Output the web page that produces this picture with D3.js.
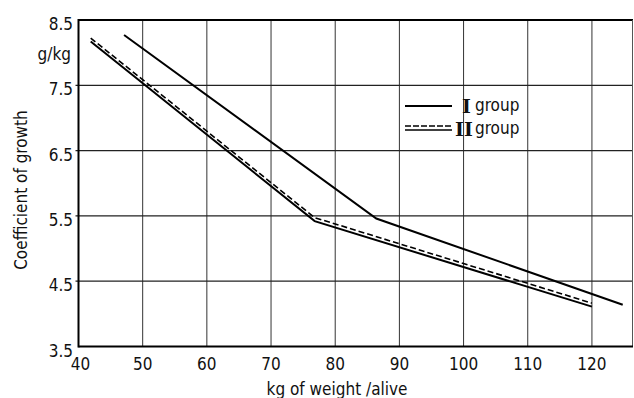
<!DOCTYPE html>
<meta charset="utf-8">
<style>
  body { margin: 0; background: #fff; }
  text { font-family: "DejaVu Sans Condensed", "Liberation Sans Narrow", sans-serif; fill: #111; }
</style>
<svg width="634" height="398"></svg>
<script src="https://d3js.org/d3.v7.min.js"></script>
<script>

    // values
    var xTicks = [40, 50, 60, 70, 80, 90, 100, 110, 120];
    var yTicks = [3.5, 4.5, 5.5, 6.5, 7.5, 8.5];
    var weightI = [47.1, 86.4, 124.8];
    var coefI = [8.27, 5.46, 4.14];
    var weightII = [41.9, 76.8, 120];
    var coefII = [8.17, 5.42, 4.11];
    var xMax = 126.4;

    var svg = d3.select("svg");

    var x = d3.scaleLinear().domain([40, xMax]).range([78.5, 633]);
    var y = d3.scaleLinear().domain([3.5, 8.5]).range([346.5, 20]);

    // grid
    svg.append("g").selectAll("line")
        .data(xTicks.slice(1))
        .enter().append("line")
        .attr("x1", d => x(d)).attr("x2", d => x(d))
        .attr("y1", y(8.5)).attr("y2", y(3.5))
        .attr("stroke", "#333").attr("stroke-width", 1);

    svg.append("g").selectAll("line")
        .data(yTicks.slice(1, -1))
        .enter().append("line")
        .attr("x1", x(40) - 3).attr("x2", x(xMax))
        .attr("y1", d => y(d)).attr("y2", d => y(d))
        .attr("stroke", "#222").attr("stroke-width", 1.2);

    // frame
    svg.append("line").attr("x1", x(40)).attr("x2", x(xMax)).attr("y1", y(8.5)).attr("y2", y(8.5))
        .attr("stroke", "#000").attr("stroke-width", 2);
    svg.append("line").attr("x1", x(xMax) - 0.5).attr("x2", x(xMax) - 0.5).attr("y1", y(8.5)).attr("y2", y(3.5))
        .attr("stroke", "#555").attr("stroke-width", 1);
    svg.append("line").attr("x1", x(40)).attr("x2", x(xMax)).attr("y1", y(3.5)).attr("y2", y(3.5))
        .attr("stroke", "#000").attr("stroke-width", 2);
    svg.append("line").attr("x1", x(40)).attr("x2", x(40)).attr("y1", y(8.5) - 1).attr("y2", y(3.5) + 1)
        .attr("stroke", "#000").attr("stroke-width", 2);

    // tick labels
    svg.append("g").selectAll("text")
        .data(xTicks)
        .enter().append("text")
        .attr("x", d => x(d) + (d == 40 ? 2 : 0))
        .attr("y", 370)
        .attr("text-anchor", "middle")
        .style("font-size", "17px")
        .text(d => d);

    svg.append("g").selectAll("text")
        .data(yTicks)
        .enter().append("text")
        .attr("x", 73)
        .attr("y", d => y(d) + 10)
        .attr("text-anchor", "end")
        .style("font-size", "17px")
        .text(d => d.toFixed(1));

    svg.append("text").attr("x", 71).attr("y", 60).attr("text-anchor", "end")
        .style("font-size", "17px").text("g/kg");

    svg.append("text")
        .attr("transform", "translate(27,190) rotate(-90)")
        .attr("text-anchor", "middle")
        .style("font-size", "17px")
        .text("Coefficient of growth");

    svg.append("text").attr("x", 337).attr("y", 395).attr("text-anchor", "middle")
        .style("font-size", "17px").text("kg of weight /alive");

    // series
    var line = d3.line().x(d => x(d[0])).y(d => y(d[1]));
    var ptsI = weightI.map((w, i) => [w, coefI[i]]);
    var ptsII = weightII.map((w, i) => [w, coefII[i]]);

    svg.append("path").datum(ptsI).attr("d", line)
        .attr("fill", "none").attr("stroke", "#000").attr("stroke-width", 2);
    svg.append("path").datum(ptsII).attr("d", line)
        .attr("fill", "none").attr("stroke", "#000").attr("stroke-width", 2);
    svg.append("path").datum(ptsII).attr("d", line)
        .attr("transform", "translate(0,-3.5)")
        .attr("fill", "none").attr("stroke", "#000").attr("stroke-width", 1.6)
        .attr("stroke-dasharray", "6,3");

    // legend
    var lg = svg.append("g");
    lg.append("line").attr("x1", 405).attr("x2", 452).attr("y1", 106).attr("y2", 106)
        .attr("stroke", "#000").attr("stroke-width", 1.8);
    lg.append("line").attr("x1", 405).attr("x2", 452).attr("y1", 126).attr("y2", 126)
        .attr("stroke", "#000").attr("stroke-width", 1.6).attr("stroke-dasharray", "6,2");
    lg.append("line").attr("x1", 405).attr("x2", 452).attr("y1", 130).attr("y2", 130)
        .attr("stroke", "#000").attr("stroke-width", 1.6);
    lg.append("text").attr("x", 462).attr("y", 113)
        .style("font-family", "'DejaVu Serif', serif").style("font-weight", "bold").style("font-size", "19px")
        .text("I");
    lg.append("text").attr("x", 475).attr("y", 111).style("font-size", "17px").text("group");
    lg.append("text").attr("x", 455).attr("y", 136)
        .style("font-family", "'DejaVu Serif', serif").style("font-weight", "bold").style("font-size", "19px")
        .text("II");
    lg.append("text").attr("x", 475).attr("y", 134).style("font-size", "17px").text("group");

</script>
